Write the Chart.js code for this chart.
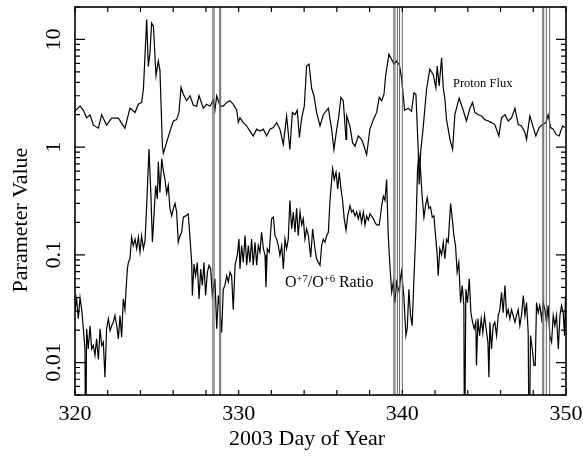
<!DOCTYPE html>
<html>
<head>
<meta charset="utf-8">
<script src="https://cdn.jsdelivr.net/npm/chart.js@4.4.0/dist/chart.umd.min.js"></script>
<style>
  body { margin: 0; background: #fff; }
  #chartBox { width: 583px; height: 456px; }
</style>
</head>
<body>
<div id="chartBox"><canvas id="myChart" width="583" height="456"></canvas></div>
<script>
// Proton flux (upper trace)
const protonDays = [
  320.00, 320.31, 320.51, 320.71, 320.92, 321.12, 321.43, 321.63, 321.93, 322.24,
  322.65, 323.05, 323.36, 323.67, 323.87, 324.07, 324.18, 324.38, 324.48, 324.58,
  324.68, 324.79, 324.95, 325.09, 325.19, 325.34, 325.40, 325.80, 326.01, 326.21,
  326.35, 326.48, 326.62, 326.82, 327.03, 327.23, 327.43, 327.58, 327.84, 328.04,
  328.25, 328.45, 328.55, 328.66, 328.86, 329.06, 329.27, 329.47, 329.67, 329.88,
  329.98, 330.08, 330.28, 330.49, 330.69, 330.89, 331.10, 331.30, 331.51, 331.71,
  331.91, 332.12, 332.32, 332.52, 332.73, 332.93, 333.13, 333.28, 333.44, 333.58,
  333.71, 333.85, 334.01, 334.15, 334.30, 334.46, 334.60, 334.76, 334.97, 335.17,
  335.48, 335.68, 335.82, 335.99, 336.09, 336.25, 336.39, 336.56, 336.60, 336.80,
  336.96, 337.11, 337.31, 337.51, 337.66, 337.82, 338.02, 338.23, 338.43, 338.59,
  338.74, 338.88, 338.98, 339.18, 339.35, 339.49, 339.65, 339.82, 339.96, 340.14,
  340.36, 340.56, 340.71, 340.83, 340.97, 341.03, 341.12, 341.28, 341.48, 341.68,
  341.89, 342.05, 342.13, 342.25, 342.40, 342.50, 342.60, 342.70, 342.91, 343.07,
  343.21, 343.47, 343.72, 343.92, 344.13, 344.29, 344.43, 344.64, 344.84, 345.04,
  345.25, 345.45, 345.65, 345.90, 346.06, 346.27, 346.47, 346.67, 346.88, 347.08,
  347.28, 347.49, 347.59, 347.79, 348.00, 348.16, 348.36, 348.57, 348.77, 348.91,
  349.06, 349.22, 349.38, 349.58, 349.79, 349.93
];
const protonFlux = [
  2.16, 2.4, 2.2, 1.87, 2.0, 1.6, 1.5, 2.0, 1.6, 1.86,
  1.86, 1.5, 2.3, 2.1, 2.5, 2.6, 3.45, 15.3, 5.6, 7.5,
  14.2, 13.3, 4.6, 6.3, 5.2, 1.02, 0.88, 1.4, 1.75, 1.8,
  2.1, 3.6, 3.1, 2.7, 3.0, 2.45, 2.4, 3.0, 2.3, 2.5,
  2.4, 2.75, 2.2, 3.0, 2.4, 2.4, 2.6, 2.7, 2.5, 2.2,
  1.7, 1.87, 1.69, 1.57, 1.41, 1.27, 1.47, 1.41, 1.47, 1.27,
  1.47, 1.52, 1.69, 1.47, 1.06, 1.95, 0.95, 2.1, 2.0, 2.2,
  1.23, 1.87, 2.4, 5.65, 5.9, 3.5, 3.0, 2.1, 1.57, 2.0,
  2.3, 1.47, 0.95, 1.47, 1.8, 2.9, 2.7, 1.18, 1.95, 1.57,
  1.1, 1.02, 1.27, 1.18, 1.02, 0.85, 1.47, 1.8, 2.1, 2.9,
  2.7, 3.1, 4.6, 7.3, 6.5, 5.9, 6.3, 5.8, 4.3, 2.2,
  2.3, 2.15, 3.2, 3.1, 0.95, 0.45, 0.9, 1.56, 3.45, 5.3,
  4.7, 3.55, 5.65, 3.7, 6.75, 3.55, 2.8, 1.8, 1.18, 0.95,
  2.0, 2.85, 2.2, 1.75, 2.3, 2.6, 2.1, 2.0, 1.95, 1.8,
  1.75, 1.69, 1.62, 1.27, 1.87, 2.0, 1.75, 1.87, 2.3, 1.62,
  1.57, 1.37, 1.18, 1.95, 1.52, 1.27, 1.52, 1.62, 1.69, 2.0,
  1.52, 1.47, 1.32, 1.27, 1.57, 1.52
];

// O+7/O+6 ratio (lower trace)
const ratioDays = [
  320.00, 320.10, 320.20, 320.31, 320.41, 320.51, 320.61, 320.65, 320.71, 320.81,
  320.92, 321.02, 321.12, 321.22, 321.32, 321.43, 321.53, 321.63, 321.73, 321.83,
  321.93, 322.04, 322.14, 322.24, 322.34, 322.44, 322.55, 322.65, 322.75, 322.85,
  322.95, 323.05, 323.12, 323.20, 323.26, 323.36, 323.46, 323.56, 323.67, 323.77,
  323.87, 323.97, 324.07, 324.18, 324.28, 324.38, 324.52, 324.64, 324.73, 324.83,
  324.93, 325.03, 325.09, 325.19, 325.30, 325.40, 325.50, 325.60, 325.70, 325.80,
  325.91, 326.01, 326.11, 326.21, 326.31, 326.42, 326.52, 326.62, 326.76, 326.92,
  327.03, 327.13, 327.17, 327.27, 327.37, 327.47, 327.58, 327.68, 327.78, 327.88,
  327.98, 328.09, 328.19, 328.29, 328.39, 328.55, 328.66, 328.76, 328.86, 328.96,
  329.06, 329.16, 329.27, 329.37, 329.47, 329.57, 329.67, 329.78, 329.92, 330.02,
  330.08, 330.18, 330.28, 330.39, 330.49, 330.59, 330.69, 330.79, 330.89, 331.00,
  331.10, 331.20, 331.30, 331.40, 331.51, 331.61, 331.67, 331.75, 331.87, 332.01,
  332.12, 332.22, 332.32, 332.42, 332.52, 332.63, 332.73, 332.83, 332.93, 333.03,
  333.13, 333.24, 333.34, 333.44, 333.54, 333.64, 333.75, 333.85, 333.95, 334.05,
  334.15, 334.26, 334.40, 334.52, 334.66, 334.76, 334.87, 334.97, 335.07, 335.17,
  335.27, 335.38, 335.48, 335.58, 335.74, 335.84, 335.95, 336.05, 336.15, 336.25,
  336.35, 336.45, 336.56, 336.66, 336.80, 336.90, 337.00, 337.11, 337.21, 337.31,
  337.41, 337.51, 337.62, 337.72, 337.82, 337.92, 338.02, 338.12, 338.23, 338.33,
  338.43, 338.59, 338.74, 338.84, 338.94, 339.04, 339.14, 339.24, 339.35, 339.45,
  339.55, 339.65, 339.82, 339.88, 339.95, 340.09, 340.22, 340.30, 340.40, 340.50,
  340.60, 340.71, 340.83, 340.93, 341.01, 341.11, 341.21, 341.32, 341.42, 341.52,
  341.62, 341.72, 341.83, 341.93, 342.03, 342.13, 342.19, 342.29, 342.40, 342.50,
  342.60, 342.70, 342.80, 342.95, 343.05, 343.15, 343.25, 343.35, 343.45, 343.56,
  343.66, 343.76, 343.80, 343.88, 343.98, 344.09, 344.19, 344.29, 344.39, 344.49,
  344.53, 344.62, 344.72, 344.82, 344.92, 345.02, 345.12, 345.23, 345.29, 345.35,
  345.45, 345.55, 345.65, 345.76, 345.86, 345.96, 346.06, 346.16, 346.27, 346.37,
  346.47, 346.57, 346.67, 346.77, 346.88, 346.98, 347.08, 347.18, 347.28, 347.39,
  347.49, 347.59, 347.69, 347.75, 347.83, 347.94, 348.04, 348.12, 348.20, 348.30,
  348.40, 348.51, 348.61, 348.71, 348.81, 348.91, 349.01, 349.12, 349.22, 349.32,
  349.42, 349.53, 349.63, 349.73, 349.83, 349.91, 349.97
];
const ratioValues = [
  0.0304, 0.039, 0.0255, 0.040, 0.031, 0.0206, 0.0134, 0.001, 0.0206, 0.0134,
  0.022, 0.0134, 0.0144, 0.0117, 0.0166, 0.0107, 0.0206, 0.0144, 0.0155, 0.0073,
  0.0206, 0.0255, 0.0198, 0.022, 0.0237, 0.0274, 0.022, 0.0166, 0.0274, 0.0172,
  0.039, 0.031, 0.048, 0.074, 0.085, 0.092, 0.146, 0.122, 0.14, 0.114,
  0.146, 0.106, 0.151, 0.114, 0.136, 0.287, 0.96, 0.35, 0.131, 0.24,
  0.44, 0.33, 0.73, 0.38, 0.78, 0.6, 0.5, 0.37, 0.44, 0.27,
  0.23, 0.27, 0.30, 0.25, 0.131, 0.151, 0.162, 0.224, 0.23, 0.24,
  0.14, 0.085, 0.042, 0.082, 0.064, 0.085, 0.039, 0.074, 0.052, 0.085,
  0.042, 0.069, 0.080, 0.074, 0.042, 0.060, 0.0206, 0.042, 0.031, 0.019,
  0.048, 0.052, 0.064, 0.056, 0.069, 0.064, 0.031, 0.080, 0.1, 0.14,
  0.074, 0.122, 0.085, 0.151, 0.080, 0.122, 0.085, 0.14, 0.080, 0.131,
  0.080, 0.122, 0.106, 0.162, 0.114, 0.099, 0.050, 0.114, 0.106, 0.216,
  0.224, 0.151, 0.14, 0.122, 0.099, 0.122, 0.074, 0.14, 0.114, 0.14,
  0.32, 0.174, 0.25, 0.162, 0.27, 0.151, 0.25, 0.19, 0.216, 0.14,
  0.174, 0.151, 0.095, 0.174, 0.114, 0.092, 0.085, 0.080, 0.122, 0.14,
  0.131, 0.151, 0.162, 0.32, 0.63, 0.5, 0.585, 0.41, 0.585, 0.41,
  0.32, 0.216, 0.17, 0.23, 0.287, 0.25, 0.26, 0.23, 0.25, 0.216,
  0.25, 0.2, 0.25, 0.19, 0.23, 0.21, 0.24, 0.23, 0.216, 0.2,
  0.19, 0.19, 0.287, 0.35, 0.32, 0.5, 0.151, 0.080, 0.045, 0.056,
  0.036, 0.056, 0.045, 0.06, 0.07, 0.042, 0.0178, 0.0206, 0.048, 0.0274,
  0.022, 0.060, 0.174, 0.63, 0.83, 0.63, 0.35, 0.224, 0.287, 0.34,
  0.27, 0.28, 0.224, 0.23, 0.151, 0.1, 0.064, 0.114, 0.1, 0.131,
  0.092, 0.14, 0.131, 0.30, 0.216, 0.151, 0.122, 0.069, 0.085, 0.036,
  0.052, 0.034, 0.001, 0.048, 0.036, 0.060, 0.029, 0.0237, 0.0206, 0.0237,
  0.0094, 0.0255, 0.0178, 0.0255, 0.019, 0.0274, 0.0206, 0.0155, 0.0073, 0.0237,
  0.0134, 0.022, 0.0237, 0.0178, 0.0274, 0.031, 0.045, 0.029, 0.052, 0.0274,
  0.031, 0.0255, 0.031, 0.0274, 0.0237, 0.0274, 0.031, 0.022, 0.0274, 0.042,
  0.0274, 0.036, 0.019, 0.001, 0.0178, 0.0134, 0.0094, 0.0094, 0.036, 0.029,
  0.034, 0.0255, 0.036, 0.031, 0.0237, 0.034, 0.0178, 0.0155, 0.0274, 0.022,
  0.0274, 0.0134, 0.0274, 0.034, 0.029, 0.0178, 0.042
];

// data gaps marked with vertical lines
const gapDays = [328.42, 328.50, 328.84, 328.90, 339.48, 339.55, 339.70, 339.83, 340.00, 348.58, 348.64, 348.80, 349.00];

const xTicks = [320, 322, 324, 326, 328, 330, 332, 334, 336, 338, 340, 342, 344, 346, 348, 350];
const xTickLabels = [320, 330, 340, 350];
const yTickLabels = ['0.01', '0.1', '1', '10'];
const xTitle = '2003 Day of Year';
const yTitle = 'Parameter Value';
const protonLabel = 'Proton Flux';
const yMin = 0.005, yMax = 20;

const serif = '"Liberation Serif", "DejaVu Serif", serif';

const toPoints = (xs, ys) => xs.map((x, i) => ({ x: x, y: ys[i] }));

// draw text made of pieces, some raised (superscripts)
const drawParts = (ctx, x, y, parts) => {
  parts.forEach(p => {
    ctx.font = p.size + 'px ' + serif;
    ctx.fillText(p.t, x, y - (p.rise || 0));
    x += ctx.measureText(p.t).width;
  });
};

const axisPlugin = {
  id: 'axisPlugin',
  afterDraw(chart) {
    const ctx = chart.ctx;
    const a = chart.chartArea;
    const xs = chart.scales.x, ys = chart.scales.y;
    ctx.save();
    ctx.strokeStyle = '#000';
    ctx.fillStyle = '#000';

    // frame
    ctx.lineWidth = 1.6;
    ctx.strokeRect(a.left, a.top, a.right - a.left, a.bottom - a.top);

    // ticks pointing inward
    ctx.lineWidth = 1.2;
    ctx.beginPath();
    xTicks.forEach(d => {
      const px = xs.getPixelForValue(d);
      ctx.moveTo(px, a.bottom); ctx.lineTo(px, a.bottom - 5);
      ctx.moveTo(px, a.top); ctx.lineTo(px, a.top + 5);
    });
    for (let e = -3; e <= 1; e++) {
      for (let m = 1; m <= 9; m++) {
        const v = m * Math.pow(10, e);
        if (v < yMin || v > yMax) continue;
        const py = ys.getPixelForValue(v);
        const len = m === 1 ? 10 : 5;
        ctx.moveTo(a.left, py); ctx.lineTo(a.left + len, py);
        ctx.moveTo(a.right, py); ctx.lineTo(a.right - len, py);
      }
    }
    ctx.stroke();

    // x tick labels
    ctx.font = '22px ' + serif;
    ctx.textAlign = 'center';
    ctx.textBaseline = 'alphabetic';
    xTickLabels.forEach(d => {
      ctx.fillText(String(d), xs.getPixelForValue(d), 420);
    });

    // y tick labels, rotated
    yTickLabels.forEach(t => {
      ctx.save();
      ctx.translate(60, ys.getPixelForValue(parseFloat(t)));
      ctx.rotate(-Math.PI / 2);
      ctx.fillText(t, 0, 0);
      ctx.restore();
    });

    // axis titles
    ctx.fillText(xTitle, 307, 445);
    ctx.save();
    ctx.translate(27, 220);
    ctx.rotate(-Math.PI / 2);
    ctx.fillText(yTitle, 0, 0);
    ctx.restore();

    // trace labels
    ctx.textAlign = 'left';
    ctx.font = '12.5px ' + serif;
    ctx.fillText(protonLabel, 453, 87);
    drawParts(ctx, 285, 287, [
      { t: 'O', size: 16 },
      { t: '+7', size: 10.5, rise: 5.5 },
      { t: '/O', size: 16 },
      { t: '+6', size: 10.5, rise: 5.5 },
      { t: ' Ratio', size: 16 }
    ]);
    ctx.restore();
  }
};

const gapSets = gapDays.map(d => ({
  data: [{ x: d, y: yMin }, { x: d, y: yMax }],
  borderColor: '#666',
  borderWidth: 1,
  pointRadius: 0
}));

const createChart = () => {
  const ctx = document.getElementById('myChart');
  new Chart(ctx, {
    type: 'line',
    data: {
      datasets: [
        ...gapSets,
        {
          label: 'Proton Flux',
          data: toPoints(protonDays, protonFlux),
          borderColor: '#000',
          borderWidth: 1.2,
          pointRadius: 0,
          tension: 0
        },
        {
          label: 'O7/O6 Ratio',
          data: toPoints(ratioDays, ratioValues),
          borderColor: '#000',
          borderWidth: 1.2,
          pointRadius: 0,
          tension: 0
        }
      ]
    },
    options: {
      responsive: false,
      animation: false,
      devicePixelRatio: 1,
      layout: { padding: { left: 75, right: 17, top: 7, bottom: 61 } },
      plugins: { legend: { display: false }, tooltip: { enabled: false } },
      scales: {
        x: { type: 'linear', min: 320, max: 350, display: false },
        y: { type: 'logarithmic', min: yMin, max: yMax, display: false }
      }
    },
    plugins: [axisPlugin]
  });
};

createChart();
</script>
</body>
</html>
